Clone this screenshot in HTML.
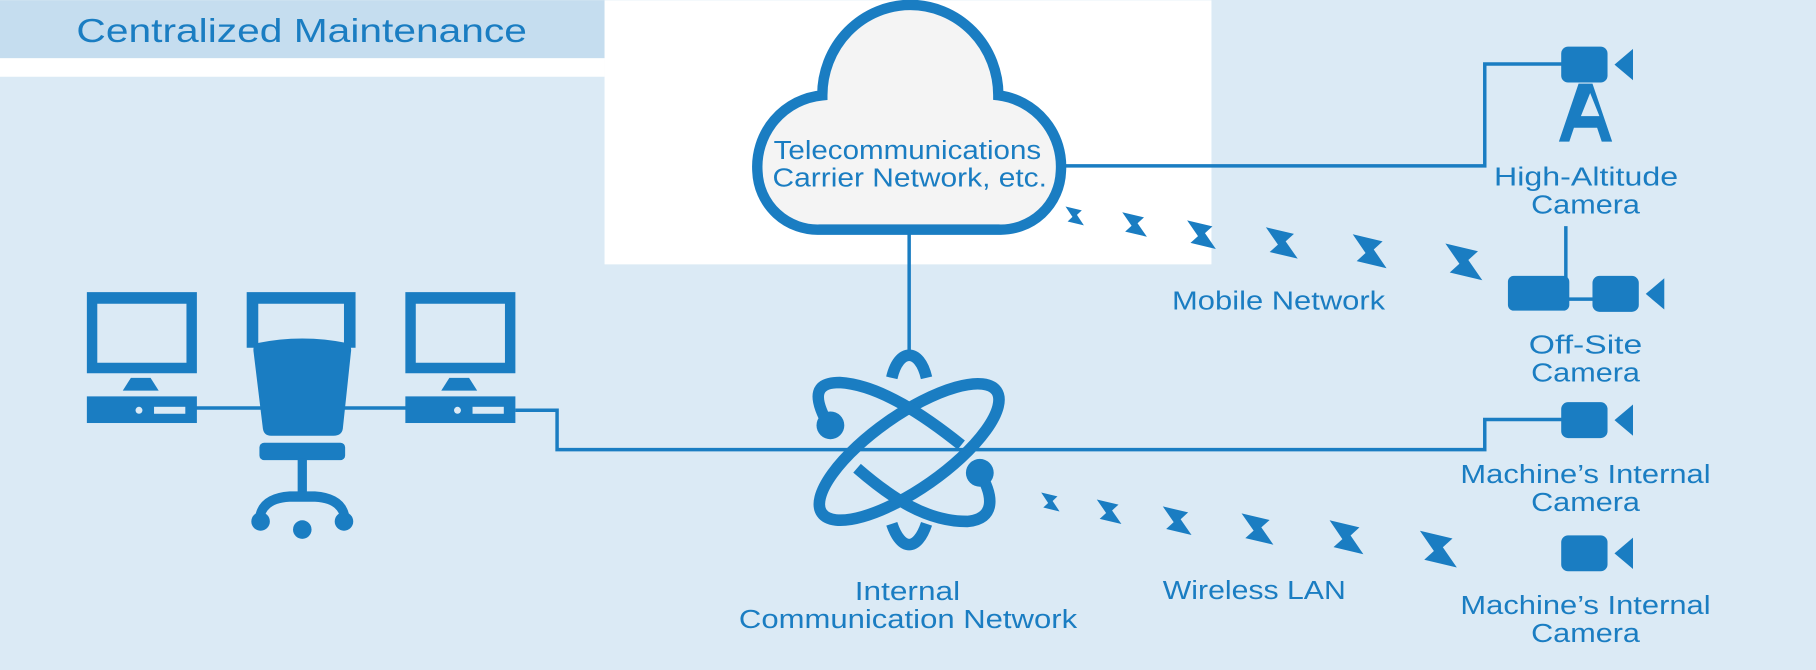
<!DOCTYPE html>
<html><head><meta charset="utf-8"><style>
html,body{margin:0;padding:0;background:#dbeaf5;}
svg{display:block;}
text{font-family:"Liberation Sans",sans-serif;fill:#1a7dc2;}
</style></head><body>
<svg width="1816" height="670" viewBox="0 0 1568 578" xmlns="http://www.w3.org/2000/svg">
<defs>
<polygon id="bolt" points="0,0 0.8,0.1 0.6,0.42 1,1 0.2,0.9 0.4,0.58" fill="#1a7dc2"/>
<g id="cam">
<rect x="0" y="0" width="40" height="31" rx="6" fill="#1a7dc2"/>
<polygon points="46,15.5 62,2 62,29" fill="#1a7dc2"/>
</g>
</defs>
<rect width="1568" height="578" fill="#dbeaf5"/>
<rect x="0" y="0" width="522" height="50" fill="#c5ddef"/>
<rect x="0" y="50" width="522" height="16" fill="#fff"/>
<rect x="522" y="0" width="524" height="228" fill="#fff"/>
<text x="66" y="36" font-size="29" textLength="389" lengthAdjust="spacingAndGlyphs">Centralized Maintenance</text>

<g stroke="#1a7dc2" stroke-width="3" fill="none">
<polyline points="918,143 1282,143 1282,55 1350,55"/>
<line x1="785" y1="198" x2="785" y2="305"/>
<polyline points="168,352 352,352"/>
<polyline points="445,354 481,354 481,388 1282,388 1282,362 1350,362"/>
<line x1="1352" y1="195" x2="1352" y2="242"/>
<line x1="1352" y1="258" x2="1380" y2="258"/>
</g>

<path d="M710,82 A76,78 0 0 1 862,82 A62,62 0 0 1 916,148 A52,52 0 0 1 862,198 L708,198 A52,52 0 0 1 654,148 A62,62 0 0 1 710,82 Z" fill="#f4f4f4" stroke="#1a7dc2" stroke-width="9"/>
<text x="668" y="137" font-size="22" textLength="231" lengthAdjust="spacingAndGlyphs">Telecommunications</text>
<text x="667" y="161" font-size="22" textLength="237" lengthAdjust="spacingAndGlyphs">Carrier Network, etc.</text>

<g fill="none" stroke="#1a7dc2" stroke-width="10">
<ellipse cx="785" cy="390" rx="92" ry="32" transform="rotate(-35 785 390)"/>
<path d="M716,368 C700,340 705,330 725,330 C760,332 800,360 830,384" />
<path d="M740,404 C770,430 800,450 835,450 C860,448 858,428 846,408"/>
<path d="M770,326 C776,300 794,300 800,326"/>
<path d="M770,452 C778,476 792,476 800,452"/>
</g>
<circle cx="717" cy="367" r="12" fill="#1a7dc2"/>
<circle cx="846" cy="408" r="12" fill="#1a7dc2"/>

<g fill="#1a7dc2">
<path d="M75,252h95v70h-95z M84,262v51h77v-51z" fill-rule="evenodd"/>
<polygon points="113,326 130,326 137,337 106,337"/>
<rect x="75" y="342" width="95" height="23"/>
<path d="M350,252h95v70h-95z M359,262v51h77v-51z" fill-rule="evenodd"/>
<polygon points="388,326 405,326 412,337 381,337"/>
<rect x="350" y="342" width="95" height="23"/>
<path d="M213,252h94v48h-10v-38h-74v38h-10z"/>
<path d="M222,296 Q261,288 300,296 Q304,298 303,304 L296,370 Q295,376 288,376 L234,376 Q228,376 227,370 L219,304 Q218,298 222,296Z"/>
<rect x="224" y="382" width="74" height="15" rx="4"/>
<rect x="257" y="396" width="8" height="36"/>
<path d="M220,448 Q222,426 250,424 L272,424 Q300,426 302,448 L294,448 Q292,434 272,433 L250,433 Q230,434 228,448Z"/>
<circle cx="225" cy="450" r="8"/><circle cx="261" cy="457" r="8"/><circle cx="297" cy="450" r="8"/>
</g>
<g fill="#dbeaf5">
<circle cx="120" cy="354" r="3"/><rect x="133" y="351" width="27" height="6"/>
<circle cx="395" cy="354" r="3"/><rect x="408" y="351" width="27" height="6"/>
</g>

<use href="#bolt" transform="translate(920,178) rotate(8) scale(18,14)"/>
<use href="#bolt" transform="translate(969,183) rotate(8) scale(24,18)"/>
<use href="#bolt" transform="translate(1025,190) rotate(8) scale(28,21)"/>
<use href="#bolt" transform="translate(1093,196) rotate(8) scale(31,23)"/>
<use href="#bolt" transform="translate(1168,202) rotate(8) scale(33,25)"/>
<use href="#bolt" transform="translate(1248,210) rotate(8) scale(36,27)"/>
<use href="#bolt" transform="translate(899,425) rotate(8) scale(18,14)"/>
<use href="#bolt" transform="translate(947,431) rotate(8) scale(24,18)"/>
<use href="#bolt" transform="translate(1004,437) rotate(8) scale(28,21)"/>
<use href="#bolt" transform="translate(1072,443) rotate(8) scale(31,23)"/>
<use href="#bolt" transform="translate(1148,449) rotate(8) scale(33,25)"/>
<use href="#bolt" transform="translate(1226,458) rotate(8) scale(36,27)"/>

<use href="#cam" x="1348" y="40"/>
<path d="M1363,72h12l17,50h-9l-4,-12h-20l-4,12h-9z M1365,100h16l-8,-20z" fill="#1a7dc2" fill-rule="evenodd"/>
<rect x="1302" y="238" width="53" height="30" rx="5" fill="#1a7dc2"/>
<use href="#cam" x="1375" y="238"/>
<use href="#cam" x="1348" y="347"/>
<use href="#cam" x="1348" y="462"/>

<g font-size="22">
<text x="1290" y="160" textLength="159" lengthAdjust="spacingAndGlyphs">High-Altitude</text>
<text x="1322" y="184" textLength="94" lengthAdjust="spacingAndGlyphs">Camera</text>
<text x="1320" y="305" textLength="98" lengthAdjust="spacingAndGlyphs">Off-Site</text>
<text x="1322" y="329" textLength="94" lengthAdjust="spacingAndGlyphs">Camera</text>
<text x="1261" y="417" textLength="216" lengthAdjust="spacingAndGlyphs">Machine’s Internal</text>
<text x="1322" y="441" textLength="94" lengthAdjust="spacingAndGlyphs">Camera</text>
<text x="1261" y="530" textLength="216" lengthAdjust="spacingAndGlyphs">Machine’s Internal</text>
<text x="1322" y="554" textLength="94" lengthAdjust="spacingAndGlyphs">Camera</text>
<text x="1012" y="267" textLength="184" lengthAdjust="spacingAndGlyphs">Mobile Network</text>
<text x="1004" y="517" textLength="158" lengthAdjust="spacingAndGlyphs">Wireless LAN</text>
<text x="738" y="518" textLength="91" lengthAdjust="spacingAndGlyphs">Internal</text>
<text x="638" y="542" textLength="292" lengthAdjust="spacingAndGlyphs">Communication Network</text>
</g>
</svg>
</body></html>
